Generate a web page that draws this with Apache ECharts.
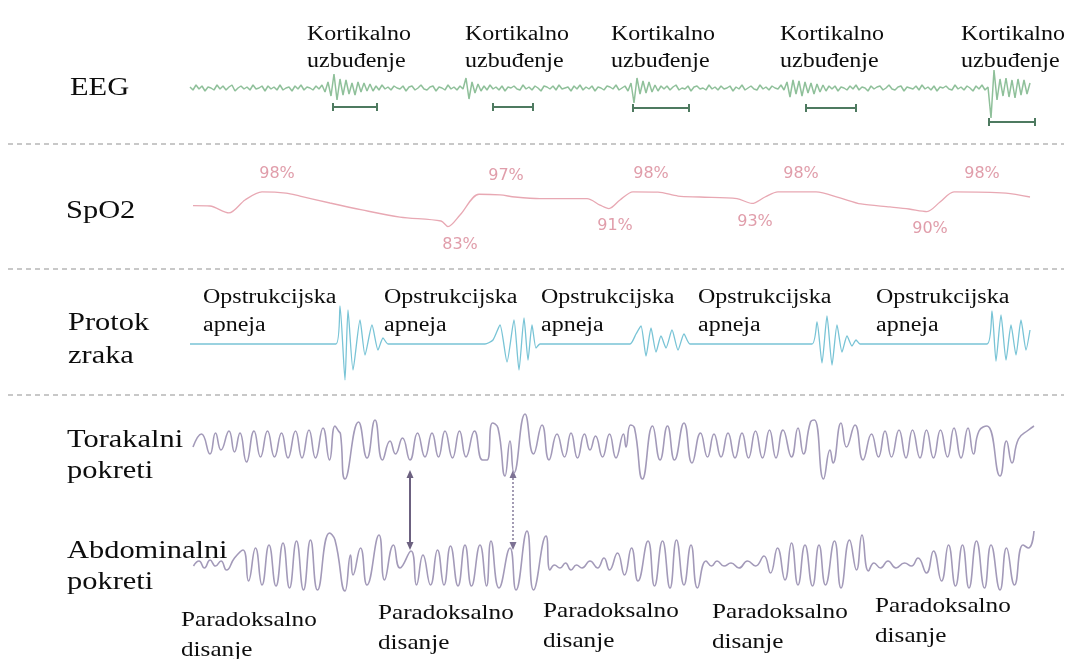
<!DOCTYPE html>
<html>
<head>
<meta charset="utf-8">
<script src="https://cdn.jsdelivr.net/npm/echarts@6/dist/echarts.min.js"></script>
<style>
  html, body { margin: 0; background: #fff; }
  #chart { width: 1069px; height: 659px; }
</style>
</head>
<body>
<div id="chart"></div>
<script>
// vrijeme u sekundama (x os zajednička za sve kanale)
const eegStep = 0.6
const eegVals = [
  1,-2,3,-1,2,-3,1,0,-2,3,-1,2,-2,1,3,-3,0,2,-1,1,
  -2,3,-1,0,2,-3,2,-1,1,-2,3,-2,0,1,-3,2,-1,3,-2,1,
  0,-2,2,-1,3,-4,6,-8,14,-12,9,-7,8,-6,5,-7,6,-4,5,-3,
  4,-3,2,-2,3,-1,1,-2,2,0,-1,2,-3,1,2,-2,0,3,-1,-2,
  1,2,-3,1,0,-2,3,-1,1,-2,2,-1,10,-11,6,-5,4,-3,2,-2,
  3,-1,1,-2,2,-3,1,0,2,-1,-2,3,-1,1,-2,2,0,-3,2,1,
  -1,2,-2,3,-1,0,1,-3,2,-1,3,-2,1,-1,2,-3,1,0,-2,2,
  1,-1,3,-2,0,2,-3,5,-15,10,-6,7,-5,6,-4,3,-3,2,-1,2,
  -2,1,3,-2,0,-1,2,-3,1,2,-1,0,-2,3,-1,1,-2,2,-1,0,
  2,-3,1,-1,3,-2,0,2,-1,-2,3,-1,1,-2,2,0,-1,3,-2,6,
  -9,8,-6,7,-8,6,-5,5,-6,4,-4,3,-3,2,-1,2,-3,1,0,-2,
  2,-1,3,-2,1,0,-3,2,-1,1,2,-2,0,3,-1,-2,1,2,-3,1,
  0,-1,2,-2,3,-1,1,-2,2,-3,1,0,2,-1,-2,3,-1,1,-2,2,
  0,-3,2,-1,3,-2,1,-30,18,-12,9,-8,10,-9,8,-10,9,-7,8,-6,5
]
// kortikalna uzbuđenja (oznake ispod EEG-a)
const arousalStart = [28.6, 60.6, 88.6, 123.2, 159.8]
const arousalEnd = [37.4, 68.6, 99.8, 133.2, 169]
const arousalLevel = [-19, -19, -20, -20, -34]

const spo2T = [0.6,4,7.8,11,14.4,19.2,22,28,34.4,42,50.2,51.6,54,57.8,62,65,70,79.4,82,83.8,
  86,88.6,93.6,97.6,102,109.4,112.4,115,117.6,125.2,130,134.2,140,143.8,147.4,150,152.8,163.2,168]
const spo2V = [92.1,91.9,88.9,94.5,98,97.5,96.2,93.2,90.2,87.1,85.4,83,88,97,96.7,95.8,95.1,95.1,92.3,90.8,
  94.5,98,97.9,96.2,95.8,95.1,93,95.8,98,98,95.4,92.8,91.5,90.6,89.5,93.6,98,97.5,95.8]
const spo2LabelT = [17.4, 54, 63.2, 85, 92.2, 113, 122.2, 148, 158.4]
const spo2LabelV = [98, 83, 97, 91, 98, 93, 98, 90, 98]

const flowT = [0,15,29.2,30,31,31.6,32.6,34,35,36.4,37.6,38.6,39.6,50,59,60.6,62,63.4,64.8,65.8,66.8,67.6,68.4,69.2,70,
  80,88,89.2,90.2,91.2,92.2,93.2,94.2,95.2,96.4,97.6,98.8,100,112,124.4,125.4,126.4,127.4,128.4,129.4,130.4,131.4,132.4,133.2,134,
  147,159.4,160.4,161.2,162.2,163.2,164.2,165.2,166.2,167.2,168]
const flowV = [0,0,0,38,-36,34,-26,24,-11,19,-6,6,0,0,0,4,19,-18,24,-26,26,-16,19,-4,0,
  0,0,10,18,-12,16,-8,8,-4,14,-6,10,0,0,0,22,-19,28,-21,19,-8,8,-2,4,0,
  0,0,33,-17,29,-16,19,-11,24,-6,14]

const thorT = [0.6,2.3,4.0,5.1,6.2,7.8,8.9,10.0,11.3,12.8,14.1,15.5,16.9,18.3,19.6,21.1,22.4,23.8,25.1,26.6,
  27.9,29.0,29.7,30.1,31.0,33.7,35.4,37.0,38.5,40.0,41.1,42.5,44.0,45.5,47.0,48.4,49.7,51.0,52.5,53.9,
  55.2,56.9,58.5,59.4,60.5,61.6,63.0,64.0,64.8,67.0,68.7,70.4,71.8,73.4,74.9,76.2,77.5,78.9,80.0,81.1,
  82.5,83.9,85.2,86.7,87.2,88.1,88.9,90.5,92.5,94.0,95.5,96.9,98.8,100.4,102.1,103.5,104.8,106.2,107.6,109.0,
  110.4,111.7,113.1,114.5,115.9,117.2,118.6,120.3,121.6,122.7,124.1,124.9,126.7,128.0,128.6,130.2,131.3,133.0,134.6,136.3,
  137.7,139.0,140.3,141.8,143.2,144.5,146.0,147.3,148.7,150.1,151.5,152.8,154.2,155.6,156.7,157.8,159.4,162.0,163.3,164.4,
  165.7,167.7,168.8]
const thorV = [-2,11,-9,12,-5,14,-7,12,-17,14,-12,14,-12,12,-13,14,-13,15,-13,17,
  -15,19,14,11,-34,23,-13,25,-15,4,-9,7,-15,12,-12,12,-12,14,-13,14,
  -12,14,-15,-15,22,17,-31,4,-28,31,-9,20,-15,11,-12,12,-13,11,-5,9,
  -12,11,-13,11,-2,20,17,-34,19,-15,19,-15,22,-18,12,-12,11,-12,12,-13,
  12,-13,14,-13,15,-13,15,-12,17,-9,23,25,-34,-5,-18,22,-2,20,-15,11,
  -12,14,-12,15,-13,15,-13,15,-13,15,-12,17,-13,17,-9,14,19,-31,4,-18,
  6,15,19]

const abdT = [0.7,1.8,2.9,4.0,5.1,6.2,7.3,8.9,10.6,11.7,13.1,14.4,15.8,17.2,18.6,19.9,21.3,22.7,24.1,25.5,
  27.9,29.0,31.0,32.1,32.6,34.1,35.4,37.8,38.9,40.7,42.0,44.2,45.3,46.6,48.1,49.5,50.8,52.1,53.6,55.0,
  56.3,58.0,59.3,60.2,61.8,64.0,65.2,67.4,68.7,71.2,72.0,72.9,74.0,75.1,76.2,77.3,78.4,80.0,81.5,82.8,
  83.9,85.5,86.9,88.3,89.6,91.6,92.9,94.5,96.0,97.3,98.8,100.2,101.5,103.2,104.3,105.4,106.8,108.2,109.8,111.5,
  113.1,114.8,116.1,117.5,119.0,120.3,121.6,123.0,124.5,125.8,127.1,128.9,130.2,131.9,133.3,134.4,135.7,136.8,138.1,139.6,
  141.2,142.9,144.3,145.6,147.3,148.7,150.3,151.7,153.1,154.5,155.8,157.3,158.9,160.2,162.0,163.3,164.9,166.6,167.7,168.8]
const abdV = [-1,4,-3,5,-1,4,-5,7,15,-16,17,-20,20,-21,22,-23,24,-25,25,-25,
  32,25,-26,10,-10,17,-20,30,-15,20,-3,14,-20,10,-20,15,-20,19,-21,20,
  -21,20,-21,24,-23,17,-25,34,-25,29,-5,0,-3,2,-5,0,-3,4,-3,7,
  -5,12,-10,17,-16,24,-21,24,-23,25,-20,20,-23,4,-1,4,-1,2,-3,4,
  -1,9,-8,17,-15,22,-20,20,-21,20,-20,24,-23,25,-5,30,-6,2,-3,4,
  -3,2,-1,7,-8,14,-16,20,-21,20,-23,24,-23,20,-25,17,-20,20,17,34]

// strelice paradoksalnog disanja (puna, isprekidana)
const paradoxArrowT = [44.0, 64.6]

const zip = (t, v) => t.map((x, i) => [x, v[i]])

var chart = echarts.init(document.getElementById('chart'))

const grids = [
  { top: 48, height: 80 },
  { top: 170, height: 75 },
  { top: 290, height: 100 },
  { top: 405, height: 90 },
  { top: 510, height: 110 }
].map(g => Object.assign({ left: 190, right: 29 }, g))

const yRanges = [[-40, 40], [75, 107.5], [-46, 54], [-50, 40], [-55, 55]]

const option = {
  animation: false,
  backgroundColor: '#fff',
  grid: grids,
  xAxis: grids.map((g, i) => ({ type: 'value', gridIndex: i, min: 0, max: 170, show: false })),
  yAxis: yRanges.map((r, i) => ({ type: 'value', gridIndex: i, min: r[0], max: r[1], show: false })),
  series: [
    {
      name: 'EEG', type: 'line', xAxisIndex: 0, yAxisIndex: 0, symbol: 'none',
      data: eegVals.map((v, i) => [i * eegStep, v]),
      lineStyle: { color: '#5fa56f', width: 1.5, opacity: 0.7 }
    },
    {
      name: 'uzbuđenja', type: 'custom', xAxisIndex: 0, yAxisIndex: 0,
      data: arousalStart.map((s, i) => [s, arousalEnd[i], arousalLevel[i]]),
      encode: { x: [0, 1], y: 2 },
      renderItem: function (params, api) {
        const a = api.coord([api.value(0), api.value(2)])
        const b = api.coord([api.value(1), api.value(2)])
        const st = { stroke: '#4e7a60', lineWidth: 2 }
        return {
          type: 'group',
          children: [
            { type: 'line', shape: { x1: a[0], y1: a[1], x2: b[0], y2: b[1] }, style: st },
            { type: 'line', shape: { x1: a[0], y1: a[1] - 4, x2: a[0], y2: a[1] + 4 }, style: st },
            { type: 'line', shape: { x1: b[0], y1: b[1] - 4, x2: b[0], y2: b[1] + 4 }, style: st }
          ]
        }
      }
    },
    {
      name: 'SpO2', type: 'line', xAxisIndex: 1, yAxisIndex: 1, symbol: 'none', smooth: 0.3,
      data: zip(spo2T, spo2V),
      lineStyle: { color: '#e8a8b3', width: 1.3 }
    },
    {
      name: 'SpO2 oznake', type: 'scatter', xAxisIndex: 1, yAxisIndex: 1, symbolSize: 0,
      data: spo2LabelT.map((t, i) => ({
        value: [t, spo2LabelV[i]],
        label: { position: spo2LabelV[i] >= 97 ? 'top' : 'bottom' }
      })),
      label: {
        show: true, distance: 10, formatter: p => p.value[1] + '%',
        color: '#d88595', fontSize: 16, fontFamily: 'DejaVu Sans'
      }
    },
    {
      name: 'Protok zraka', type: 'line', xAxisIndex: 2, yAxisIndex: 2, symbol: 'none', smooth: 0.2,
      data: zip(flowT, flowV),
      lineStyle: { color: '#79c4d6', width: 1.3 }
    },
    {
      name: 'Torakalni pokreti', type: 'line', xAxisIndex: 3, yAxisIndex: 3, symbol: 'none', smooth: 0.5,
      data: zip(thorT, thorV),
      lineStyle: { color: '#a39ab9', width: 1.6 }
    },
    {
      name: 'Abdominalni pokreti', type: 'line', xAxisIndex: 4, yAxisIndex: 4, symbol: 'none', smooth: 0.5,
      data: zip(abdT, abdV),
      lineStyle: { color: '#a39ab9', width: 1.6 }
    }
  ]
}
chart.setOption(option)

// tekstovi
function txt(s, x, y, size, sx) {
  return {
    type: 'text', x: x, y: y, scaleX: sx || 1.2,
    style: {
      text: s, font: size + 'px "Liberation Serif"', fill: '#0d0d0d',
      align: 'left', verticalAlign: 'middle', textAlign: 'left', textVerticalAlign: 'middle'
    }
  }
}
const els = []
// isprekidane razdjelnice
;[144, 269, 395].forEach(y => {
  els.push({ type: 'line', shape: { x1: 8, y1: y, x2: 1064, y2: y },
    style: { stroke: '#c8c8c8', lineWidth: 2, lineDash: [5, 4] } })
})
els.push(txt('EEG', 70, 88, 26, 1.17))
els.push(txt('SpO2', 66, 211, 26, 1.17))
els.push(txt('Protok', 68, 323, 26, 1.17))
els.push(txt('zraka', 68, 356, 26, 1.17))
els.push(txt('Torakalni', 67, 440, 26, 1.17))
els.push(txt('pokreti', 67, 471, 26, 1.17))
els.push(txt('Abdominalni', 67, 551, 26, 1.17))
els.push(txt('pokreti', 67, 582, 26, 1.17))
;[307, 465, 611, 780, 961].forEach(x => {
  els.push(txt('Kortikalno', x, 35, 20))
  els.push(txt('uzbuđenje', x, 62, 20))
})
;[203, 384, 541, 698, 876].forEach(x => {
  els.push(txt('Opstrukcijska', x, 298, 20))
  els.push(txt('apneja', x, 326, 20))
})
;[[181, 620], [378, 613], [543, 611], [712, 612], [875, 606]].forEach(p => {
  els.push(txt('Paradoksalno', p[0], p[1], 21))
  els.push(txt('disanje', p[0], p[1] + 30, 21))
})
// strelice između torakalnog i abdominalnog kanala
paradoxArrowT.forEach((t, i) => {
  const x = chart.convertToPixel({ xAxisIndex: 3 }, t)
  const y1 = 470, y2 = 550
  const col = i === 0 ? '#6c6180' : '#7d7294'
  els.push({ type: 'line', shape: { x1: x, y1: y1 + 4, x2: x, y2: y2 - 4 },
    style: { stroke: col, lineWidth: i === 0 ? 2 : 1.4, lineDash: i === 0 ? null : [2, 2] } })
  els.push({ type: 'polygon', shape: { points: [[x, y1], [x - 3.5, y1 + 8], [x + 3.5, y1 + 8]] }, style: { fill: col } })
  els.push({ type: 'polygon', shape: { points: [[x, y2], [x - 3.5, y2 - 8], [x + 3.5, y2 - 8]] }, style: { fill: col } })
})
chart.setOption({ graphic: els })

window.onresize = function () { chart.resize() }
</script>
</body>
</html>
